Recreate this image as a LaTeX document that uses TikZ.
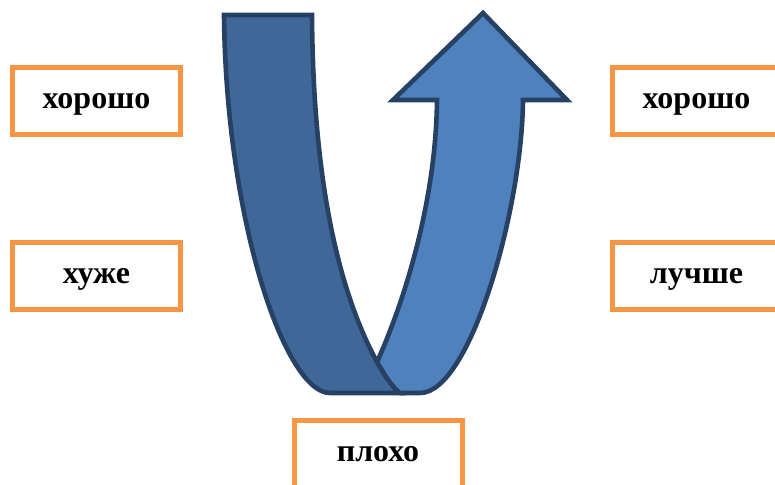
\documentclass[tikz,border=0pt]{standalone}
\usepackage{fontspec}
\setmainfont{Liberation Serif}
\definecolor{ribbondark}{HTML}{3F6797}
\definecolor{ribbonlight}{HTML}{4F81BD}
\definecolor{ribbonedge}{HTML}{264164}
\definecolor{boxorange}{HTML}{F79646}

\begin{document}
\begin{tikzpicture}[x=0.5pt, y=-0.5pt,
    labelbox/.style={draw=boxorange, line width=2.5pt, minimum width=84pt,
      minimum height=33.5pt, inner sep=0pt,
      font=\bfseries\fontsize{16}{19}\selectfont,
      text height=11.3pt, text depth=4pt},
    ribbon/.style={draw=ribbonedge, line width=2.3pt}]
                % Frame
                \useasboundingbox (0,0) rectangle (775,485);
                \clip (0,0) rectangle (775,485);
                
                % Points
                \coordinate (LO) at (224,15);
                \coordinate (LI) at (312,15);
                \coordinate (X) at (377,362);
                \coordinate (F) at (400,393);
                \coordinate (BL) at (330,393);
                \coordinate (BR) at (420,393);
                \coordinate (RI) at (437,100);
                \coordinate (RO) at (523,100);
                \coordinate (HL) at (393,100);
                \coordinate (HR) at (567,100);
                \coordinate (Tip) at (483,13);
                
                % Ribbon going down (dark)
                \draw[ribbon, fill=ribbondark] (LO) -- (LI)
                  .. controls (313,180) and (338,290) .. (X)
                  .. controls (383,372) and (390,385) .. (F) -- (BL)
                  .. controls (285,393) and (226,220) .. (LO) -- cycle;
                
                % Ribbon going up with arrow head (light)
                \draw[ribbon, fill=ribbonlight] (RI) -- (HL) -- (Tip) -- (HR) -- (RO)
                  .. controls (522,210) and (470,393) .. (BR) -- (F)
                  .. controls (390,385) and (383,372) .. (X)
                  .. controls (405,300) and (436,200) .. (RI) -- cycle;
                
                % Labels
                \node[labelbox] (goodL) at (96.5,101) {хорошо};
                \node[labelbox] (worse) at (96.5,276.5) {хуже};
                \node[labelbox] (goodR) at (696.5,101) {хорошо};
                \node[labelbox] (better) at (696.5,276.5) {лучше};
                \node[labelbox] (bad) at (378,454) {плохо};
            \end{tikzpicture}
\end{document}
